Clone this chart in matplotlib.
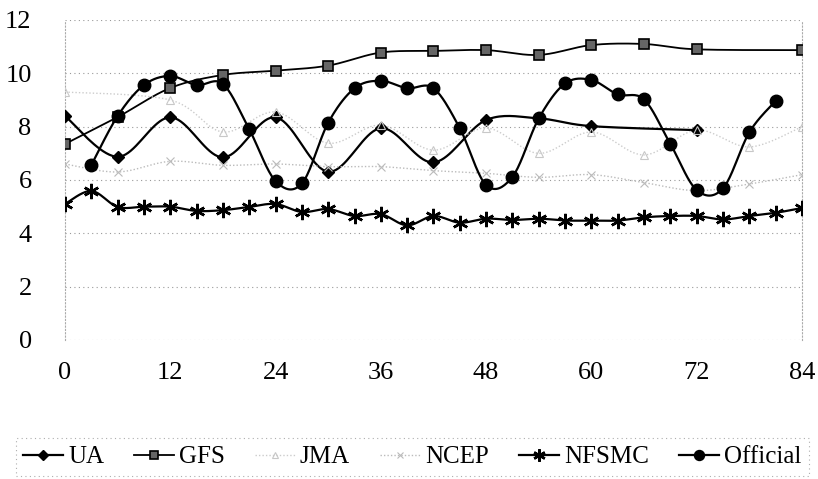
import numpy as np
import matplotlib
matplotlib.use("Agg")
import matplotlib.pyplot as plt
from matplotlib.lines import Line2D

plt.rcParams['font.family'] = ['Liberation Serif', 'DejaVu Serif']

ua_t = [0, 6, 12, 18, 24, 30, 36, 42, 48, 54, 60, 72]
ua_v = [8.4, 6.87, 8.35, 6.85, 8.35, 6.31, 7.94, 6.66, 8.25, 8.31, 8.02, 7.87]

gfs_t = [0, 6, 12, 18, 24, 30, 36, 42, 48, 54, 60, 66, 72, 84]
gfs_v = [7.35, 8.36, 9.45, 9.94, 10.1, 10.29, 10.78, 10.84, 10.87, 10.69, 11.06, 11.1, 10.9, 10.87]

jma_t = [0, 12, 18, 24, 30, 36, 42, 48, 54, 60, 66, 72, 78, 84]
jma_v = [9.3, 9.0, 7.8, 8.55, 7.38, 8.06, 7.12, 7.95, 7.0, 7.8, 6.94, 7.87, 7.24, 8.0]

ncep_t = [0, 6, 12, 18, 24, 30, 36, 42, 48, 54, 60, 66, 72, 78, 84]
ncep_v = [6.6, 6.3, 6.7, 6.55, 6.6, 6.5, 6.5, 6.35, 6.25, 6.1, 6.2, 5.9, 5.6, 5.85, 6.2]

nfsmc_t = list(range(0, 85, 3))
nfsmc_v = [5.1, 5.59, 4.99, 5.0, 5.0, 4.84, 4.87, 4.99, 5.1, 4.8, 4.91, 4.65, 4.72, 4.3,
           4.65, 4.4, 4.55, 4.5, 4.55, 4.48, 4.48, 4.48, 4.6, 4.65, 4.65, 4.52, 4.65, 4.77, 4.95]

off_t = list(range(3, 82, 3))
off_v = [6.56, 8.4, 9.56, 9.9, 9.56, 9.6, 7.9, 5.96, 5.87, 8.15, 9.44, 9.72, 9.44, 9.44,
         7.94, 5.81, 6.12, 8.31, 9.62, 9.75, 9.21, 9.02, 7.35, 5.62, 5.69, 7.79, 8.97]

x_ticks = [0, 12, 24, 36, 48, 60, 72, 84]
y_ticks = [0, 2, 4, 6, 8, 10, 12]


def smooth(t, v, n=20):
    t = np.asarray(t, float)
    v = np.asarray(v, float)
    P = np.column_stack([t, v])
    out = []
    for i in range(len(P) - 1):
        p0 = P[i - 1] if i > 0 else P[i]
        p1 = P[i]
        p2 = P[i + 1]
        p3 = P[i + 2] if i + 2 < len(P) else P[i + 1]
        c1 = p1 + (p2 - p0) / 6.0
        c2 = p2 - (p3 - p1) / 6.0
        s = np.linspace(0, 1, n, endpoint=(i == len(P) - 2))[:, None]
        seg = ((1 - s) ** 3) * p1 + 3 * ((1 - s) ** 2) * s * c1 + 3 * (1 - s) * s ** 2 * c2 + s ** 3 * p2
        out.append(seg)
    out = np.vstack(out)
    return out[:, 0], out[:, 1]


fig = plt.figure(figsize=(8.18, 4.79), dpi=100)
ax = fig.add_axes([65 / 818, 1 - 340 / 479, (802 - 65) / 818, (340 - 20) / 479])

ax.set_xlim(0, 84)
ax.set_ylim(0, 12)
for y in y_ticks:
    ax.axhline(y, color='#999999', lw=0.8, ls=(0, (1, 3)), zorder=0)
for s in ['top', 'bottom']:
    ax.spines[s].set_visible(False)
for s in ['left', 'right']:
    ax.spines[s].set_color('#aaaaaa')
    ax.spines[s].set_linestyle((0, (1, 2)))
    ax.spines[s].set_linewidth(0.8)

asterisk = (6, 2, 0)
series = [
    ('UA', ua_t, ua_v, dict(color='black', lw=1.6), dict(marker='D', ms=6.5, mfc='black', mec='black')),
    ('GFS', gfs_t, gfs_v, dict(color='black', lw=1.3), dict(marker='s', ms=7.5, mfc='#666666', mec='black', mew=1.2)),
    ('JMA', jma_t, jma_v, dict(color='#cccccc', lw=1.0, ls=(0, (1, 1.5))), dict(marker='^', ms=6, mfc='none', mec='#c8c8c8', mew=0.8)),
    ('NCEP', ncep_t, ncep_v, dict(color='#bbbbbb', lw=1.0, ls=(0, (1, 1.5))), dict(marker='x', ms=6, mec='#bbbbbb', mew=0.8)),
    ('NFSMC', nfsmc_t, nfsmc_v, dict(color='black', lw=1.6), dict(marker=asterisk, ms=11, mec='black', mew=1.8)),
    ('Official', off_t, off_v, dict(color='black', lw=1.6), dict(marker='o', ms=9, mfc='black', mec='black')),
]

handles = []
for name, t, v, lstyle, mstyle in series:
    xs, ys = smooth(t, v)
    ax.plot(xs, ys, zorder=2, **lstyle)
    ax.plot(t, v, ls='none', zorder=3, **mstyle)
    handles.append(Line2D([0], [0], label=name, **lstyle, **mstyle))

ax.set_xticks(x_ticks)
ax.set_yticks(y_ticks)
ax.tick_params(length=0, labelsize=19, pad=0)
ax.tick_params(axis='x', pad=16)
ax.tick_params(axis='y', pad=24)

leg = fig.legend(handles=handles, loc='center', bbox_to_anchor=(412 / 818, 1 - 457 / 479),
                 ncol=6, fontsize=18, frameon=True, handlelength=1.6, handletextpad=0.2,
                 columnspacing=1.2, borderpad=0.3, fancybox=False, markerscale=0.8)
leg.get_frame().set_edgecolor('#999999')
leg.get_frame().set_linestyle((0, (1, 3)))
leg.get_frame().set_linewidth(0.8)

fig.savefig('out.png', dpi=100)
